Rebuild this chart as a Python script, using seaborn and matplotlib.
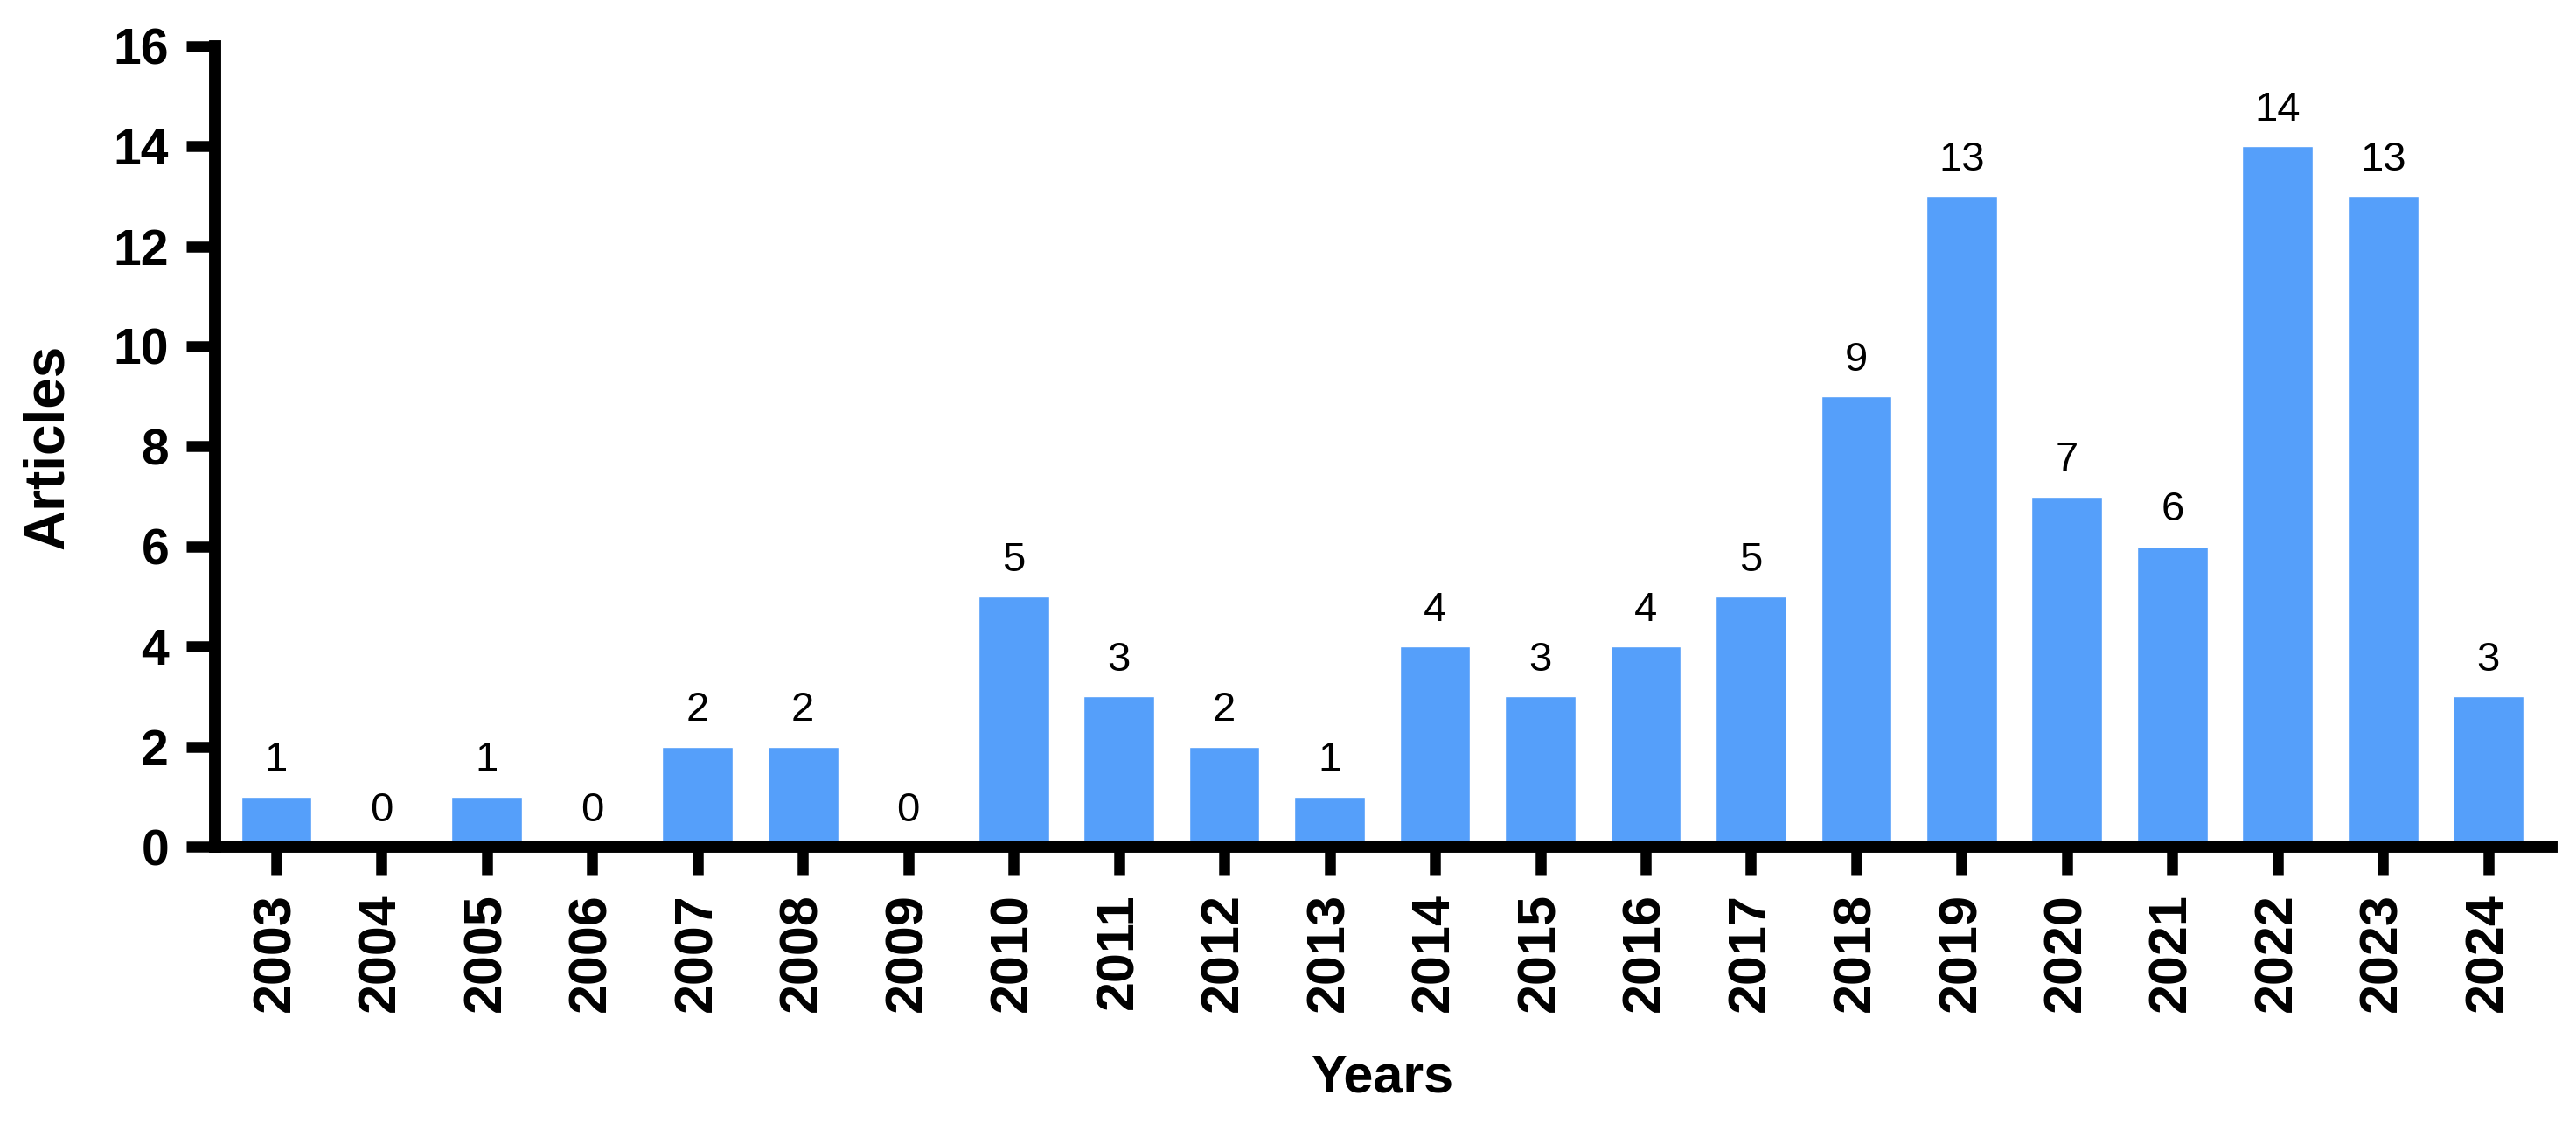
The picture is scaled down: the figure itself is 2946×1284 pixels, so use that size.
"""
Articles per year bar chart
"""

import matplotlib
import matplotlib.pyplot as plt
import seaborn as sns
import pandas as pd

matplotlib.use("Agg")

years = [str(y) for y in range(2003, 2025)]
articles = [1, 0, 1, 0, 2, 2, 0, 5, 3, 2, 1, 4, 3, 4, 5, 9, 13, 7, 6, 14, 13, 3]
y_ticks = [0, 2, 4, 6, 8, 10, 12, 14, 16]

df = pd.DataFrame({"Years": years, "Articles": articles})

sns.set_style("ticks")
plt.rcParams["font.family"] = ["Liberation Sans", "DejaVu Sans"]
plt.rcParams["text.color"] = "black"

fig = plt.figure(figsize=(29.46, 12.84), dpi=100)
ax = fig.add_axes([0.0835, 0.246, 0.907, 0.713])

sns.barplot(data=df, x="Years", y="Articles", color="#559ffa", saturation=1,
            width=0.67, ax=ax)

for c in ax.containers:
    ax.bar_label(c, labels=[str(v) for v in articles], padding=14, fontsize=34,
                 color="black")

ax.set_ylim(0, 16)
ax.set_yticks(y_ticks)
ax.set_xlim(-0.58, len(years) - 0.4)

sns.despine(ax=ax)
for s in ["left", "bottom"]:
    ax.spines[s].set_linewidth(10)
    ax.spines[s].set_color("black")

ax.tick_params(axis="both", width=9, length=24, color="black", labelcolor="black")
ax.tick_params(axis="y", labelsize=41, pad=14)
ax.tick_params(axis="x", labelsize=44, pad=14, labelrotation=90)
for lbl in ax.get_xticklabels() + ax.get_yticklabels():
    lbl.set_fontweight("bold")

ax.set_xlabel("Years", fontsize=44, fontweight="bold", labelpad=34, color="black")
ax.set_ylabel("Articles", fontsize=46, fontweight="bold", labelpad=32, color="black")

fig.savefig("out.png", dpi=100)
